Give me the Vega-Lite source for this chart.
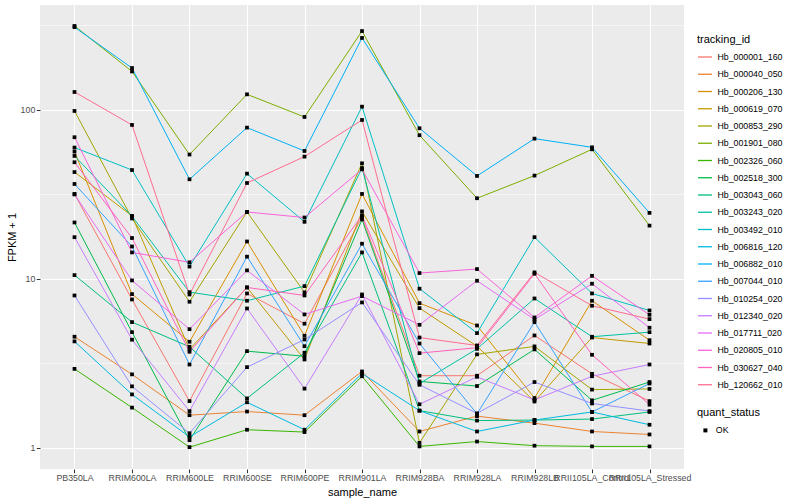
{
"$schema": "https://vega.github.io/schema/vega-lite/v6.json",
"width": 644, "height": 464,
"autosize": {"type": "none"},
"padding": {"left": 40, "top": 5, "right": 116, "bottom": 31},
"background": "white",
"config": {
  "font": "Liberation Sans",
  "view": {"fill": "#EBEBEB", "stroke": null},
  "axis": {"domain": false, "gridColor": "white", "tickColor": "#333333", "tickSize": 3.7, "tickWidth": 1, "labelColor": "#4D4D4D", "labelFontSize": 8.8, "titleFontSize": 11, "titleFontWeight": "normal", "titleColor": "black"},
  "legend": {"titleFontSize": 11, "titleFontWeight": "normal", "titleColor": "black", "labelFontSize": 8.8, "labelColor": "black"}
},
"data": {"values": [
{"tracking_id":"Hb_000001_160","sample_name":"PB350LA","fpkm":31.7,"quant_status":"OK"},
{"tracking_id":"Hb_000001_160","sample_name":"RRIM600LA","fpkm":7.54,"quant_status":"OK"},
{"tracking_id":"Hb_000001_160","sample_name":"RRIM600LE","fpkm":1.89,"quant_status":"OK"},
{"tracking_id":"Hb_000001_160","sample_name":"RRIM600SE","fpkm":8.18,"quant_status":"OK"},
{"tracking_id":"Hb_000001_160","sample_name":"RRIM600PE","fpkm":5.42,"quant_status":"OK"},
{"tracking_id":"Hb_000001_160","sample_name":"RRIM901LA","fpkm":23.1,"quant_status":"OK"},
{"tracking_id":"Hb_000001_160","sample_name":"RRIM928BA","fpkm":2.67,"quant_status":"OK"},
{"tracking_id":"Hb_000001_160","sample_name":"RRIM928LA","fpkm":2.67,"quant_status":"OK"},
{"tracking_id":"Hb_000001_160","sample_name":"RRIM928LB","fpkm":4.62,"quant_status":"OK"},
{"tracking_id":"Hb_000001_160","sample_name":"RRII105LA_Control","fpkm":2.74,"quant_status":"OK"},
{"tracking_id":"Hb_000001_160","sample_name":"RRII105LA_Stressed","fpkm":1.89,"quant_status":"OK"},
{"tracking_id":"Hb_000040_050","sample_name":"PB350LA","fpkm":4.54,"quant_status":"OK"},
{"tracking_id":"Hb_000040_050","sample_name":"RRIM600LA","fpkm":2.72,"quant_status":"OK"},
{"tracking_id":"Hb_000040_050","sample_name":"RRIM600LE","fpkm":1.56,"quant_status":"OK"},
{"tracking_id":"Hb_000040_050","sample_name":"RRIM600SE","fpkm":1.64,"quant_status":"OK"},
{"tracking_id":"Hb_000040_050","sample_name":"RRIM600PE","fpkm":1.56,"quant_status":"OK"},
{"tracking_id":"Hb_000040_050","sample_name":"RRIM901LA","fpkm":2.83,"quant_status":"OK"},
{"tracking_id":"Hb_000040_050","sample_name":"RRIM928BA","fpkm":1.25,"quant_status":"OK"},
{"tracking_id":"Hb_000040_050","sample_name":"RRIM928LA","fpkm":1.54,"quant_status":"OK"},
{"tracking_id":"Hb_000040_050","sample_name":"RRIM928LB","fpkm":1.40,"quant_status":"OK"},
{"tracking_id":"Hb_000040_050","sample_name":"RRII105LA_Control","fpkm":1.25,"quant_status":"OK"},
{"tracking_id":"Hb_000040_050","sample_name":"RRII105LA_Stressed","fpkm":1.20,"quant_status":"OK"},
{"tracking_id":"Hb_000206_130","sample_name":"PB350LA","fpkm":56.4,"quant_status":"OK"},
{"tracking_id":"Hb_000206_130","sample_name":"RRIM600LA","fpkm":8.11,"quant_status":"OK"},
{"tracking_id":"Hb_000206_130","sample_name":"RRIM600LE","fpkm":4.24,"quant_status":"OK"},
{"tracking_id":"Hb_000206_130","sample_name":"RRIM600SE","fpkm":16.6,"quant_status":"OK"},
{"tracking_id":"Hb_000206_130","sample_name":"RRIM600PE","fpkm":4.60,"quant_status":"OK"},
{"tracking_id":"Hb_000206_130","sample_name":"RRIM901LA","fpkm":31.7,"quant_status":"OK"},
{"tracking_id":"Hb_000206_130","sample_name":"RRIM928BA","fpkm":7.17,"quant_status":"OK"},
{"tracking_id":"Hb_000206_130","sample_name":"RRIM928LA","fpkm":5.29,"quant_status":"OK"},
{"tracking_id":"Hb_000206_130","sample_name":"RRIM928LB","fpkm":1.97,"quant_status":"OK"},
{"tracking_id":"Hb_000206_130","sample_name":"RRII105LA_Control","fpkm":7.41,"quant_status":"OK"},
{"tracking_id":"Hb_000206_130","sample_name":"RRII105LA_Stressed","fpkm":4.33,"quant_status":"OK"},
{"tracking_id":"Hb_000619_070","sample_name":"PB350LA","fpkm":42.7,"quant_status":"OK"},
{"tracking_id":"Hb_000619_070","sample_name":"RRIM600LA","fpkm":23.5,"quant_status":"OK"},
{"tracking_id":"Hb_000619_070","sample_name":"RRIM600LE","fpkm":3.82,"quant_status":"OK"},
{"tracking_id":"Hb_000619_070","sample_name":"RRIM600SE","fpkm":8.88,"quant_status":"OK"},
{"tracking_id":"Hb_000619_070","sample_name":"RRIM600PE","fpkm":3.33,"quant_status":"OK"},
{"tracking_id":"Hb_000619_070","sample_name":"RRIM901LA","fpkm":25.0,"quant_status":"OK"},
{"tracking_id":"Hb_000619_070","sample_name":"RRIM928BA","fpkm":6.70,"quant_status":"OK"},
{"tracking_id":"Hb_000619_070","sample_name":"RRIM928LA","fpkm":3.99,"quant_status":"OK"},
{"tracking_id":"Hb_000619_070","sample_name":"RRIM928LB","fpkm":1.88,"quant_status":"OK"},
{"tracking_id":"Hb_000619_070","sample_name":"RRII105LA_Control","fpkm":4.49,"quant_status":"OK"},
{"tracking_id":"Hb_000619_070","sample_name":"RRII105LA_Stressed","fpkm":4.14,"quant_status":"OK"},
{"tracking_id":"Hb_000853_290","sample_name":"PB350LA","fpkm":98.1,"quant_status":"OK"},
{"tracking_id":"Hb_000853_290","sample_name":"RRIM600LA","fpkm":22.7,"quant_status":"OK"},
{"tracking_id":"Hb_000853_290","sample_name":"RRIM600LE","fpkm":7.31,"quant_status":"OK"},
{"tracking_id":"Hb_000853_290","sample_name":"RRIM600SE","fpkm":24.8,"quant_status":"OK"},
{"tracking_id":"Hb_000853_290","sample_name":"RRIM600PE","fpkm":8.30,"quant_status":"OK"},
{"tracking_id":"Hb_000853_290","sample_name":"RRIM901LA","fpkm":48.1,"quant_status":"OK"},
{"tracking_id":"Hb_000853_290","sample_name":"RRIM928BA","fpkm":1.07,"quant_status":"OK"},
{"tracking_id":"Hb_000853_290","sample_name":"RRIM928LA","fpkm":3.57,"quant_status":"OK"},
{"tracking_id":"Hb_000853_290","sample_name":"RRIM928LB","fpkm":3.98,"quant_status":"OK"},
{"tracking_id":"Hb_000853_290","sample_name":"RRII105LA_Control","fpkm":2.21,"quant_status":"OK"},
{"tracking_id":"Hb_000853_290","sample_name":"RRII105LA_Stressed","fpkm":2.23,"quant_status":"OK"},
{"tracking_id":"Hb_001901_080","sample_name":"PB350LA","fpkm":312,"quant_status":"OK"},
{"tracking_id":"Hb_001901_080","sample_name":"RRIM600LA","fpkm":168,"quant_status":"OK"},
{"tracking_id":"Hb_001901_080","sample_name":"RRIM600LE","fpkm":54.2,"quant_status":"OK"},
{"tracking_id":"Hb_001901_080","sample_name":"RRIM600SE","fpkm":123,"quant_status":"OK"},
{"tracking_id":"Hb_001901_080","sample_name":"RRIM600PE","fpkm":90.4,"quant_status":"OK"},
{"tracking_id":"Hb_001901_080","sample_name":"RRIM901LA","fpkm":291,"quant_status":"OK"},
{"tracking_id":"Hb_001901_080","sample_name":"RRIM928BA","fpkm":70.5,"quant_status":"OK"},
{"tracking_id":"Hb_001901_080","sample_name":"RRIM928LA","fpkm":29.9,"quant_status":"OK"},
{"tracking_id":"Hb_001901_080","sample_name":"RRIM928LB","fpkm":40.7,"quant_status":"OK"},
{"tracking_id":"Hb_001901_080","sample_name":"RRII105LA_Control","fpkm":58.2,"quant_status":"OK"},
{"tracking_id":"Hb_001901_080","sample_name":"RRII105LA_Stressed","fpkm":20.6,"quant_status":"OK"},
{"tracking_id":"Hb_002326_060","sample_name":"PB350LA","fpkm":2.93,"quant_status":"OK"},
{"tracking_id":"Hb_002326_060","sample_name":"RRIM600LA","fpkm":1.73,"quant_status":"OK"},
{"tracking_id":"Hb_002326_060","sample_name":"RRIM600LE","fpkm":1.01,"quant_status":"OK"},
{"tracking_id":"Hb_002326_060","sample_name":"RRIM600SE","fpkm":1.28,"quant_status":"OK"},
{"tracking_id":"Hb_002326_060","sample_name":"RRIM600PE","fpkm":1.24,"quant_status":"OK"},
{"tracking_id":"Hb_002326_060","sample_name":"RRIM901LA","fpkm":2.65,"quant_status":"OK"},
{"tracking_id":"Hb_002326_060","sample_name":"RRIM928BA","fpkm":1.02,"quant_status":"OK"},
{"tracking_id":"Hb_002326_060","sample_name":"RRIM928LA","fpkm":1.09,"quant_status":"OK"},
{"tracking_id":"Hb_002326_060","sample_name":"RRIM928LB","fpkm":1.03,"quant_status":"OK"},
{"tracking_id":"Hb_002326_060","sample_name":"RRII105LA_Control","fpkm":1.02,"quant_status":"OK"},
{"tracking_id":"Hb_002326_060","sample_name":"RRII105LA_Stressed","fpkm":1.02,"quant_status":"OK"},
{"tracking_id":"Hb_002518_300","sample_name":"PB350LA","fpkm":21.5,"quant_status":"OK"},
{"tracking_id":"Hb_002518_300","sample_name":"RRIM600LA","fpkm":4.83,"quant_status":"OK"},
{"tracking_id":"Hb_002518_300","sample_name":"RRIM600LE","fpkm":1.11,"quant_status":"OK"},
{"tracking_id":"Hb_002518_300","sample_name":"RRIM600SE","fpkm":3.73,"quant_status":"OK"},
{"tracking_id":"Hb_002518_300","sample_name":"RRIM600PE","fpkm":3.48,"quant_status":"OK"},
{"tracking_id":"Hb_002518_300","sample_name":"RRIM901LA","fpkm":22.4,"quant_status":"OK"},
{"tracking_id":"Hb_002518_300","sample_name":"RRIM928BA","fpkm":2.47,"quant_status":"OK"},
{"tracking_id":"Hb_002518_300","sample_name":"RRIM928LA","fpkm":2.32,"quant_status":"OK"},
{"tracking_id":"Hb_002518_300","sample_name":"RRIM928LB","fpkm":3.82,"quant_status":"OK"},
{"tracking_id":"Hb_002518_300","sample_name":"RRII105LA_Control","fpkm":1.91,"quant_status":"OK"},
{"tracking_id":"Hb_002518_300","sample_name":"RRII105LA_Stressed","fpkm":2.45,"quant_status":"OK"},
{"tracking_id":"Hb_003043_060","sample_name":"PB350LA","fpkm":10.5,"quant_status":"OK"},
{"tracking_id":"Hb_003043_060","sample_name":"RRIM600LA","fpkm":5.54,"quant_status":"OK"},
{"tracking_id":"Hb_003043_060","sample_name":"RRIM600LE","fpkm":3.96,"quant_status":"OK"},
{"tracking_id":"Hb_003043_060","sample_name":"RRIM600SE","fpkm":1.96,"quant_status":"OK"},
{"tracking_id":"Hb_003043_060","sample_name":"RRIM600PE","fpkm":3.65,"quant_status":"OK"},
{"tracking_id":"Hb_003043_060","sample_name":"RRIM901LA","fpkm":14.3,"quant_status":"OK"},
{"tracking_id":"Hb_003043_060","sample_name":"RRIM928BA","fpkm":1.66,"quant_status":"OK"},
{"tracking_id":"Hb_003043_060","sample_name":"RRIM928LA","fpkm":1.45,"quant_status":"OK"},
{"tracking_id":"Hb_003043_060","sample_name":"RRIM928LB","fpkm":1.46,"quant_status":"OK"},
{"tracking_id":"Hb_003043_060","sample_name":"RRII105LA_Control","fpkm":1.48,"quant_status":"OK"},
{"tracking_id":"Hb_003043_060","sample_name":"RRII105LA_Stressed","fpkm":1.63,"quant_status":"OK"},
{"tracking_id":"Hb_003243_020","sample_name":"PB350LA","fpkm":53.2,"quant_status":"OK"},
{"tracking_id":"Hb_003243_020","sample_name":"RRIM600LA","fpkm":23.4,"quant_status":"OK"},
{"tracking_id":"Hb_003243_020","sample_name":"RRIM600LE","fpkm":8.33,"quant_status":"OK"},
{"tracking_id":"Hb_003243_020","sample_name":"RRIM600SE","fpkm":7.41,"quant_status":"OK"},
{"tracking_id":"Hb_003243_020","sample_name":"RRIM600PE","fpkm":9.04,"quant_status":"OK"},
{"tracking_id":"Hb_003243_020","sample_name":"RRIM901LA","fpkm":45.1,"quant_status":"OK"},
{"tracking_id":"Hb_003243_020","sample_name":"RRIM928BA","fpkm":2.40,"quant_status":"OK"},
{"tracking_id":"Hb_003243_020","sample_name":"RRIM928LA","fpkm":3.85,"quant_status":"OK"},
{"tracking_id":"Hb_003243_020","sample_name":"RRIM928LB","fpkm":7.64,"quant_status":"OK"},
{"tracking_id":"Hb_003243_020","sample_name":"RRII105LA_Control","fpkm":4.54,"quant_status":"OK"},
{"tracking_id":"Hb_003243_020","sample_name":"RRII105LA_Stressed","fpkm":4.83,"quant_status":"OK"},
{"tracking_id":"Hb_003492_010","sample_name":"PB350LA","fpkm":59.6,"quant_status":"OK"},
{"tracking_id":"Hb_003492_010","sample_name":"RRIM600LA","fpkm":43.9,"quant_status":"OK"},
{"tracking_id":"Hb_003492_010","sample_name":"RRIM600LE","fpkm":11.8,"quant_status":"OK"},
{"tracking_id":"Hb_003492_010","sample_name":"RRIM600SE","fpkm":41.8,"quant_status":"OK"},
{"tracking_id":"Hb_003492_010","sample_name":"RRIM600PE","fpkm":21.7,"quant_status":"OK"},
{"tracking_id":"Hb_003492_010","sample_name":"RRIM901LA","fpkm":104,"quant_status":"OK"},
{"tracking_id":"Hb_003492_010","sample_name":"RRIM928BA","fpkm":8.73,"quant_status":"OK"},
{"tracking_id":"Hb_003492_010","sample_name":"RRIM928LA","fpkm":4.77,"quant_status":"OK"},
{"tracking_id":"Hb_003492_010","sample_name":"RRIM928LB","fpkm":17.6,"quant_status":"OK"},
{"tracking_id":"Hb_003492_010","sample_name":"RRII105LA_Control","fpkm":8.18,"quant_status":"OK"},
{"tracking_id":"Hb_003492_010","sample_name":"RRII105LA_Stressed","fpkm":6.49,"quant_status":"OK"},
{"tracking_id":"Hb_006816_120","sample_name":"PB350LA","fpkm":4.26,"quant_status":"OK"},
{"tracking_id":"Hb_006816_120","sample_name":"RRIM600LA","fpkm":2.07,"quant_status":"OK"},
{"tracking_id":"Hb_006816_120","sample_name":"RRIM600LE","fpkm":1.16,"quant_status":"OK"},
{"tracking_id":"Hb_006816_120","sample_name":"RRIM600SE","fpkm":1.86,"quant_status":"OK"},
{"tracking_id":"Hb_006816_120","sample_name":"RRIM600PE","fpkm":1.28,"quant_status":"OK"},
{"tracking_id":"Hb_006816_120","sample_name":"RRIM901LA","fpkm":2.75,"quant_status":"OK"},
{"tracking_id":"Hb_006816_120","sample_name":"RRIM928BA","fpkm":1.66,"quant_status":"OK"},
{"tracking_id":"Hb_006816_120","sample_name":"RRIM928LA","fpkm":1.25,"quant_status":"OK"},
{"tracking_id":"Hb_006816_120","sample_name":"RRIM928LB","fpkm":1.46,"quant_status":"OK"},
{"tracking_id":"Hb_006816_120","sample_name":"RRII105LA_Control","fpkm":1.63,"quant_status":"OK"},
{"tracking_id":"Hb_006816_120","sample_name":"RRII105LA_Stressed","fpkm":1.37,"quant_status":"OK"},
{"tracking_id":"Hb_006882_010","sample_name":"PB350LA","fpkm":307,"quant_status":"OK"},
{"tracking_id":"Hb_006882_010","sample_name":"RRIM600LA","fpkm":176,"quant_status":"OK"},
{"tracking_id":"Hb_006882_010","sample_name":"RRIM600LE","fpkm":38.7,"quant_status":"OK"},
{"tracking_id":"Hb_006882_010","sample_name":"RRIM600SE","fpkm":78.2,"quant_status":"OK"},
{"tracking_id":"Hb_006882_010","sample_name":"RRIM600PE","fpkm":56.9,"quant_status":"OK"},
{"tracking_id":"Hb_006882_010","sample_name":"RRIM901LA","fpkm":265,"quant_status":"OK"},
{"tracking_id":"Hb_006882_010","sample_name":"RRIM928BA","fpkm":77.5,"quant_status":"OK"},
{"tracking_id":"Hb_006882_010","sample_name":"RRIM928LA","fpkm":40.5,"quant_status":"OK"},
{"tracking_id":"Hb_006882_010","sample_name":"RRIM928LB","fpkm":67.3,"quant_status":"OK"},
{"tracking_id":"Hb_006882_010","sample_name":"RRII105LA_Control","fpkm":59.8,"quant_status":"OK"},
{"tracking_id":"Hb_006882_010","sample_name":"RRII105LA_Stressed","fpkm":24.5,"quant_status":"OK"},
{"tracking_id":"Hb_007044_010","sample_name":"PB350LA","fpkm":36.3,"quant_status":"OK"},
{"tracking_id":"Hb_007044_010","sample_name":"RRIM600LA","fpkm":15.5,"quant_status":"OK"},
{"tracking_id":"Hb_007044_010","sample_name":"RRIM600LE","fpkm":3.11,"quant_status":"OK"},
{"tracking_id":"Hb_007044_010","sample_name":"RRIM600SE","fpkm":13.5,"quant_status":"OK"},
{"tracking_id":"Hb_007044_010","sample_name":"RRIM600PE","fpkm":3.99,"quant_status":"OK"},
{"tracking_id":"Hb_007044_010","sample_name":"RRIM901LA","fpkm":16.1,"quant_status":"OK"},
{"tracking_id":"Hb_007044_010","sample_name":"RRIM928BA","fpkm":4.14,"quant_status":"OK"},
{"tracking_id":"Hb_007044_010","sample_name":"RRIM928LA","fpkm":1.59,"quant_status":"OK"},
{"tracking_id":"Hb_007044_010","sample_name":"RRIM928LB","fpkm":5.54,"quant_status":"OK"},
{"tracking_id":"Hb_007044_010","sample_name":"RRII105LA_Control","fpkm":1.63,"quant_status":"OK"},
{"tracking_id":"Hb_007044_010","sample_name":"RRII105LA_Stressed","fpkm":2.40,"quant_status":"OK"},
{"tracking_id":"Hb_010254_020","sample_name":"PB350LA","fpkm":7.96,"quant_status":"OK"},
{"tracking_id":"Hb_010254_020","sample_name":"RRIM600LA","fpkm":2.31,"quant_status":"OK"},
{"tracking_id":"Hb_010254_020","sample_name":"RRIM600LE","fpkm":1.22,"quant_status":"OK"},
{"tracking_id":"Hb_010254_020","sample_name":"RRIM600SE","fpkm":3.00,"quant_status":"OK"},
{"tracking_id":"Hb_010254_020","sample_name":"RRIM600PE","fpkm":4.37,"quant_status":"OK"},
{"tracking_id":"Hb_010254_020","sample_name":"RRIM901LA","fpkm":7.24,"quant_status":"OK"},
{"tracking_id":"Hb_010254_020","sample_name":"RRIM928BA","fpkm":2.36,"quant_status":"OK"},
{"tracking_id":"Hb_010254_020","sample_name":"RRIM928LA","fpkm":1.60,"quant_status":"OK"},
{"tracking_id":"Hb_010254_020","sample_name":"RRIM928LB","fpkm":2.45,"quant_status":"OK"},
{"tracking_id":"Hb_010254_020","sample_name":"RRII105LA_Control","fpkm":1.83,"quant_status":"OK"},
{"tracking_id":"Hb_010254_020","sample_name":"RRII105LA_Stressed","fpkm":1.65,"quant_status":"OK"},
{"tracking_id":"Hb_012340_020","sample_name":"PB350LA","fpkm":17.6,"quant_status":"OK"},
{"tracking_id":"Hb_012340_020","sample_name":"RRIM600LA","fpkm":4.36,"quant_status":"OK"},
{"tracking_id":"Hb_012340_020","sample_name":"RRIM600LE","fpkm":1.65,"quant_status":"OK"},
{"tracking_id":"Hb_012340_020","sample_name":"RRIM600SE","fpkm":6.67,"quant_status":"OK"},
{"tracking_id":"Hb_012340_020","sample_name":"RRIM600PE","fpkm":2.24,"quant_status":"OK"},
{"tracking_id":"Hb_012340_020","sample_name":"RRIM901LA","fpkm":8.07,"quant_status":"OK"},
{"tracking_id":"Hb_012340_020","sample_name":"RRIM928BA","fpkm":1.81,"quant_status":"OK"},
{"tracking_id":"Hb_012340_020","sample_name":"RRIM928LA","fpkm":2.63,"quant_status":"OK"},
{"tracking_id":"Hb_012340_020","sample_name":"RRIM928LB","fpkm":1.92,"quant_status":"OK"},
{"tracking_id":"Hb_012340_020","sample_name":"RRII105LA_Control","fpkm":2.65,"quant_status":"OK"},
{"tracking_id":"Hb_012340_020","sample_name":"RRII105LA_Stressed","fpkm":3.11,"quant_status":"OK"},
{"tracking_id":"Hb_017711_020","sample_name":"PB350LA","fpkm":31.5,"quant_status":"OK"},
{"tracking_id":"Hb_017711_020","sample_name":"RRIM600LA","fpkm":9.77,"quant_status":"OK"},
{"tracking_id":"Hb_017711_020","sample_name":"RRIM600LE","fpkm":5.03,"quant_status":"OK"},
{"tracking_id":"Hb_017711_020","sample_name":"RRIM600SE","fpkm":11.2,"quant_status":"OK"},
{"tracking_id":"Hb_017711_020","sample_name":"RRIM600PE","fpkm":6.15,"quant_status":"OK"},
{"tracking_id":"Hb_017711_020","sample_name":"RRIM901LA","fpkm":7.89,"quant_status":"OK"},
{"tracking_id":"Hb_017711_020","sample_name":"RRIM928BA","fpkm":5.34,"quant_status":"OK"},
{"tracking_id":"Hb_017711_020","sample_name":"RRIM928LA","fpkm":9.73,"quant_status":"OK"},
{"tracking_id":"Hb_017711_020","sample_name":"RRIM928LB","fpkm":5.74,"quant_status":"OK"},
{"tracking_id":"Hb_017711_020","sample_name":"RRII105LA_Control","fpkm":9.34,"quant_status":"OK"},
{"tracking_id":"Hb_017711_020","sample_name":"RRII105LA_Stressed","fpkm":5.13,"quant_status":"OK"},
{"tracking_id":"Hb_020805_010","sample_name":"PB350LA","fpkm":68.6,"quant_status":"OK"},
{"tracking_id":"Hb_020805_010","sample_name":"RRIM600LA","fpkm":14.3,"quant_status":"OK"},
{"tracking_id":"Hb_020805_010","sample_name":"RRIM600LE","fpkm":12.5,"quant_status":"OK"},
{"tracking_id":"Hb_020805_010","sample_name":"RRIM600SE","fpkm":24.8,"quant_status":"OK"},
{"tracking_id":"Hb_020805_010","sample_name":"RRIM600PE","fpkm":23.0,"quant_status":"OK"},
{"tracking_id":"Hb_020805_010","sample_name":"RRIM901LA","fpkm":44.3,"quant_status":"OK"},
{"tracking_id":"Hb_020805_010","sample_name":"RRIM928BA","fpkm":10.8,"quant_status":"OK"},
{"tracking_id":"Hb_020805_010","sample_name":"RRIM928LA","fpkm":11.4,"quant_status":"OK"},
{"tracking_id":"Hb_020805_010","sample_name":"RRIM928LB","fpkm":5.90,"quant_status":"OK"},
{"tracking_id":"Hb_020805_010","sample_name":"RRII105LA_Control","fpkm":10.4,"quant_status":"OK"},
{"tracking_id":"Hb_020805_010","sample_name":"RRII105LA_Stressed","fpkm":6.12,"quant_status":"OK"},
{"tracking_id":"Hb_030627_040","sample_name":"PB350LA","fpkm":48.8,"quant_status":"OK"},
{"tracking_id":"Hb_030627_040","sample_name":"RRIM600LA","fpkm":17.4,"quant_status":"OK"},
{"tracking_id":"Hb_030627_040","sample_name":"RRIM600LE","fpkm":3.70,"quant_status":"OK"},
{"tracking_id":"Hb_030627_040","sample_name":"RRIM600SE","fpkm":8.88,"quant_status":"OK"},
{"tracking_id":"Hb_030627_040","sample_name":"RRIM600PE","fpkm":7.96,"quant_status":"OK"},
{"tracking_id":"Hb_030627_040","sample_name":"RRIM901LA","fpkm":23.7,"quant_status":"OK"},
{"tracking_id":"Hb_030627_040","sample_name":"RRIM928BA","fpkm":3.63,"quant_status":"OK"},
{"tracking_id":"Hb_030627_040","sample_name":"RRIM928LA","fpkm":3.91,"quant_status":"OK"},
{"tracking_id":"Hb_030627_040","sample_name":"RRIM928LB","fpkm":10.7,"quant_status":"OK"},
{"tracking_id":"Hb_030627_040","sample_name":"RRII105LA_Control","fpkm":3.55,"quant_status":"OK"},
{"tracking_id":"Hb_030627_040","sample_name":"RRII105LA_Stressed","fpkm":1.80,"quant_status":"OK"},
{"tracking_id":"Hb_120662_010","sample_name":"PB350LA","fpkm":127,"quant_status":"OK"},
{"tracking_id":"Hb_120662_010","sample_name":"RRIM600LA","fpkm":81.1,"quant_status":"OK"},
{"tracking_id":"Hb_120662_010","sample_name":"RRIM600LE","fpkm":8.07,"quant_status":"OK"},
{"tracking_id":"Hb_120662_010","sample_name":"RRIM600SE","fpkm":36.8,"quant_status":"OK"},
{"tracking_id":"Hb_120662_010","sample_name":"RRIM600PE","fpkm":52.7,"quant_status":"OK"},
{"tracking_id":"Hb_120662_010","sample_name":"RRIM901LA","fpkm":86.8,"quant_status":"OK"},
{"tracking_id":"Hb_120662_010","sample_name":"RRIM928BA","fpkm":4.49,"quant_status":"OK"},
{"tracking_id":"Hb_120662_010","sample_name":"RRIM928LA","fpkm":4.03,"quant_status":"OK"},
{"tracking_id":"Hb_120662_010","sample_name":"RRIM928LB","fpkm":10.9,"quant_status":"OK"},
{"tracking_id":"Hb_120662_010","sample_name":"RRII105LA_Control","fpkm":6.92,"quant_status":"OK"},
{"tracking_id":"Hb_120662_010","sample_name":"RRII105LA_Stressed","fpkm":5.77,"quant_status":"OK"}
]},
"encoding": {
  "x": {"field": "sample_name", "type": "nominal",
    "sort": ["PB350LA","RRIM600LA","RRIM600LE","RRIM600SE","RRIM600PE","RRIM901LA","RRIM928BA","RRIM928LA","RRIM928LB","RRII105LA_Control","RRII105LA_Stressed"],
    "scale": {"type": "point", "padding": 0.6},
    "axis": {"title": "sample_name", "labelAngle": 0, "grid": true, "gridWidth": 1.1, "labelOverlap": false, "labelBound": false, "labelFlush": false, "labelPadding": 0.5, "titleX": 322, "titleY": 26, "titleBaseline": "alphabetic", "titleAnchor": null}},
  "y": {"field": "fpkm", "type": "quantitative",
    "scale": {"type": "log", "domain": [0.75, 415], "nice": false, "zero": false},
    "axis": {"title": "FPKM + 1", "values": [1, 3.1623, 10, 31.623, 100, 316.23],
      "labelExpr": "datum.value < 2 ? '1' : datum.value < 5 ? '' : datum.value < 20 ? '10' : datum.value < 50 ? '' : datum.value < 200 ? '100' : ''",
      "labelOverlap": false, "labelPadding": 1.5, "grid": true,
      "gridWidth": {"condition": {"test": "datum.value < 2 || (datum.value > 5 && datum.value < 20) || (datum.value > 50 && datum.value < 200)", "value": 1.1}, "value": 0.55},
      "tickOpacity": {"condition": {"test": "datum.value < 2 || (datum.value > 5 && datum.value < 20) || (datum.value > 50 && datum.value < 200)", "value": 1}, "value": 0},
      "titleX": -28, "titleY": 232, "titleBaseline": "middle"}}
},
"layer": [
  {"mark": {"type": "line", "strokeWidth": 1, "clip": true},
   "encoding": {
     "color": {"field": "tracking_id", "type": "nominal",
       "scale": {"range": ["#F8766D","#EA8331","#D89000","#C09B00","#A3A500","#7CAE00","#39B600","#00BB4E","#00BF7D","#00C1A3","#00BFC4","#00BAE0","#00B0F6","#35A2FF","#9590FF","#C77CFF","#E76BF3","#FA62DB","#FF62BC","#FF6C91"]},
       "legend": {"title": "tracking_id", "orient": "none", "legendX": 657, "legendY": 29, "symbolType": "stroke", "symbolSize": 196, "symbolStrokeWidth": 1.3, "rowPadding": 4.25, "titlePadding": 4, "labelOffset": 4.4}}
   }},
  {"mark": {"type": "point", "shape": "square", "filled": true, "color": "black", "size": 14, "opacity": 1},
   "encoding": {
     "shape": {"field": "quant_status", "type": "nominal", "scale": {"range": ["square"]},
       "legend": {"title": "quant_status", "orient": "none", "legendX": 657, "legendY": 402, "symbolFillColor": "black", "symbolStrokeColor": "black", "symbolSize": 16, "symbolOffset": 4, "labelOffset": 6, "titlePadding": 8}}
   }}
]
}
